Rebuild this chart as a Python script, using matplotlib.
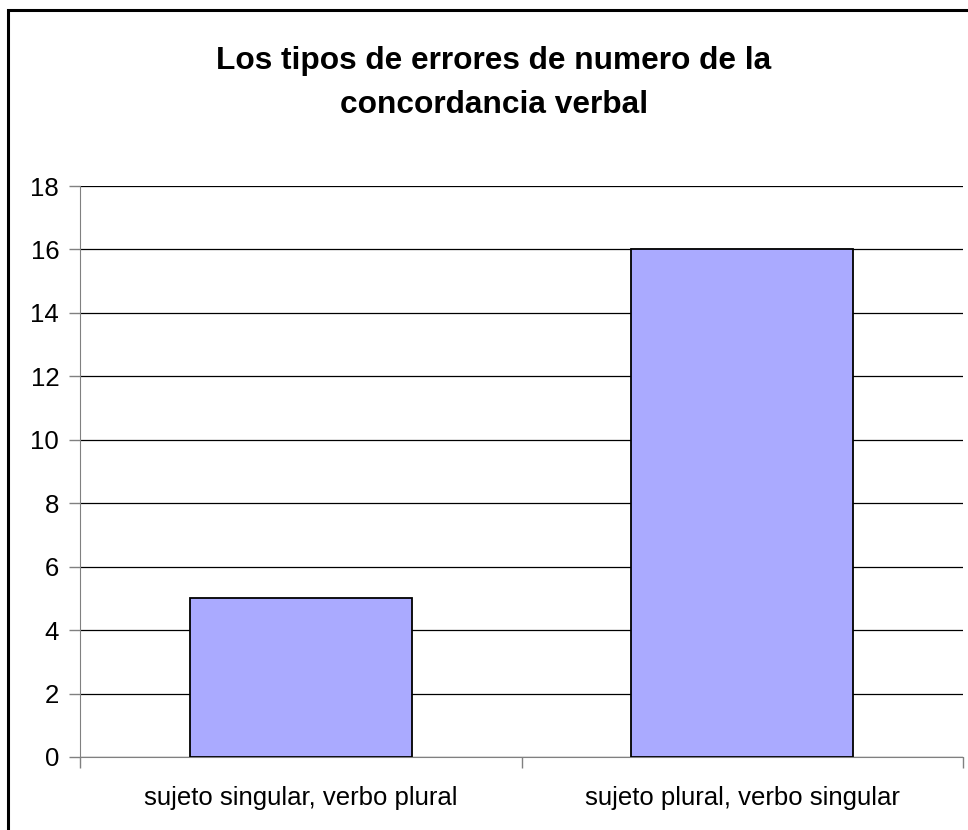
import matplotlib.pyplot as plt
from matplotlib.patches import Rectangle

# Datos
categorias = ['sujeto singular, verbo plural', 'sujeto plural, verbo singular']
errores = [5, 16]
y_ticks = [0, 2, 4, 6, 8, 10, 12, 14, 16, 18]
titulo = 'Los tipos de errores de numero de la\nconcordancia verbal'

plt.rcParams['font.family'] = ['Liberation Sans', 'DejaVu Sans']

fig = plt.figure(figsize=(9.68, 8.3), dpi=100)
ax = fig.add_axes([80 / 968, 1 - 757 / 830, (963 - 80) / 968, (757 - 186) / 830])

x = list(range(len(categorias)))
ax.bar(x, errores, width=0.503, color='#AAAAFF', edgecolor='black', linewidth=1.3, zorder=3)

ax.set_xlim(-0.5, len(categorias) - 0.5)
ax.set_ylim(0, 18)
ax.set_yticks(y_ticks)
ax.set_yticklabels([str(v) for v in y_ticks], fontsize=18.5)
ax.tick_params(axis='y', length=8, width=1, color='#808080', pad=7)

ax.set_xticks(x)
ax.set_xticklabels(categorias, fontsize=18.5)
ax.tick_params(axis='x', which='major', length=0, pad=21)
ax.set_xticks([-0.5, 0.5, 1.5], minor=True)
ax.tick_params(axis='x', which='minor', length=8, width=1, color='#808080', direction='out')

ax.yaxis.grid(True, color='black', linewidth=0.9, zorder=0)
ax.set_axisbelow(True)
for s in ['top', 'right']:
    ax.spines[s].set_visible(False)
ax.spines['left'].set_color('#808080')
ax.spines['bottom'].set_color('#808080')

fig.text(0.51, 1 - 83 / 830, titulo, ha='center', va='center', fontsize=22.8,
         fontweight='bold', linespacing=1.6)

# marco del grafico
fig.patches.append(Rectangle((8 / 968, -0.1), 1.2, 1 - 10 / 830 + 0.1, transform=fig.transFigure,
                             fill=False, edgecolor='black', linewidth=2.2))

fig.savefig('out.png', dpi=100)
